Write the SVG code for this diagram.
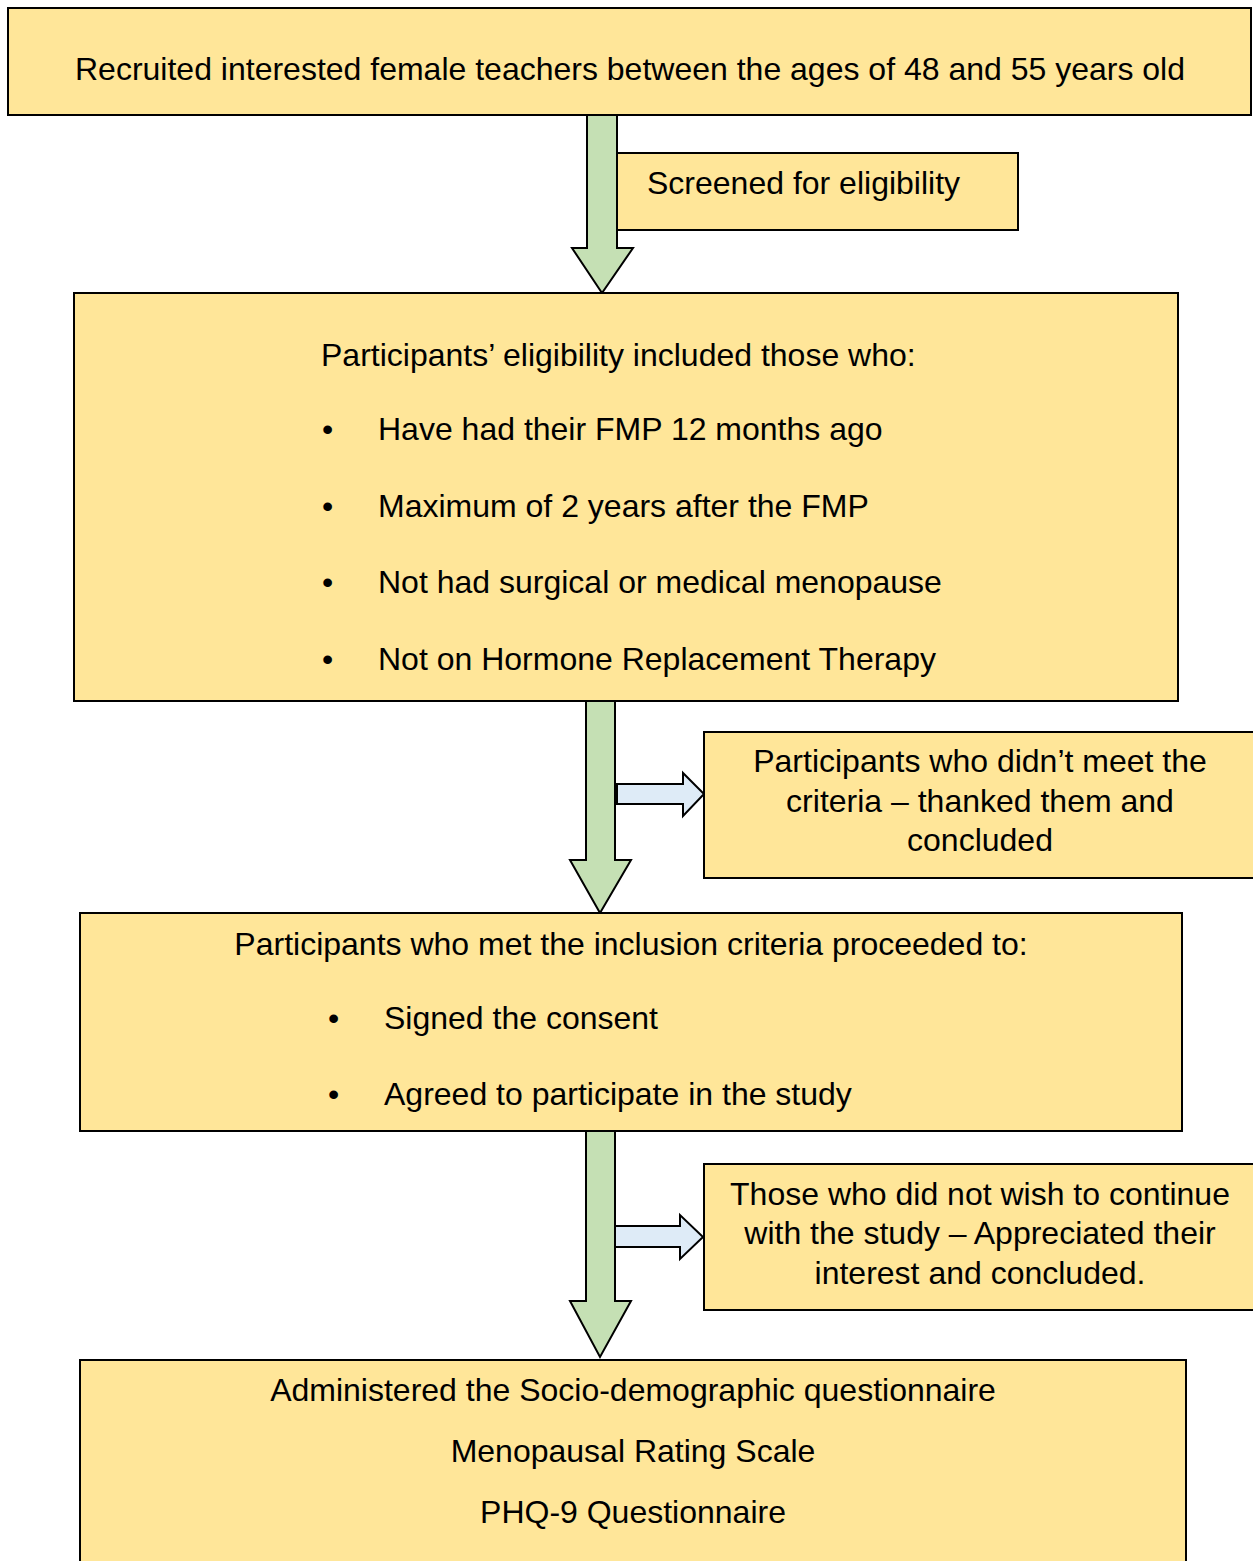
<svg xmlns="http://www.w3.org/2000/svg" width="1253" height="1561" viewBox="0 0 1253 1561">
<style>
.box{fill:#FFE699;stroke:#000;stroke-width:2}
.down{fill:#C5E0B4;stroke:#000;stroke-width:2;stroke-linejoin:miter}
.side{fill:#DEEBF7;stroke:#000;stroke-width:2}
text{font-family:"Liberation Sans",Arial,sans-serif;font-size:32px;fill:#000}
.c{text-anchor:middle}
</style>
<rect width="1253" height="1561" fill="#fff"/>
<g id="connectors">
<polygon class="down" points="587,115 617,115 617,248 633,248 602,293 572,248 587,248"/>
<polygon class="down" points="586,701 615,701 615,860 631,860 600,913 570,860 586,860"/>
<polygon class="side" points="617,784 683,784 683,773 704,794 683,816 683,804 617,804"/>
<polygon class="down" points="586,1131 615,1131 615,1301 631,1301 600,1357 570,1301 586,1301"/>
<polygon class="side" points="615,1226 680,1226 680,1215 703,1237 680,1259 680,1247 615,1247"/>
</g>
<g id="recruited">
<rect class="box" x="8" y="8" width="1243" height="107"/>
<text class="c" x="630" y="80">Recruited interested female teachers between the ages of 48 and 55 years old</text>
</g>
<g id="screened">
<rect class="box" x="617" y="153" width="401" height="77"/>
<text x="647" y="194">Screened for eligibility</text>
</g>
<g id="eligibility">
<rect class="box" x="74" y="293" width="1104" height="408"/>
<text x="321" y="366">Participants’ eligibility included those who:</text>
<text x="322" y="440">•</text><text x="378" y="440">Have had their FMP 12 months ago</text>
<text x="322" y="517">•</text><text x="378" y="517">Maximum of 2 years after the FMP</text>
<text x="322" y="593">•</text><text x="378" y="593">Not had surgical or medical menopause</text>
<text x="322" y="670">•</text><text x="378" y="670">Not on Hormone Replacement Therapy</text>
</g>
<g id="not-met">
<rect class="box" x="704" y="732" width="560" height="146"/>
<text class="c" x="980" y="772">Participants who didn’t meet the</text>
<text class="c" x="980" y="812">criteria – thanked them and</text>
<text class="c" x="980" y="851">concluded</text>
</g>
<g id="met">
<rect class="box" x="80" y="913" width="1102" height="218"/>
<text class="c" x="631" y="955">Participants who met the inclusion criteria proceeded to:</text>
<text x="328" y="1029">•</text><text x="384" y="1029">Signed the consent</text>
<text x="328" y="1105">•</text><text x="384" y="1105">Agreed to participate in the study</text>
</g>
<g id="not-continue">
<rect class="box" x="704" y="1164" width="560" height="146"/>
<text class="c" x="980" y="1205">Those who did not wish to continue</text>
<text class="c" x="980" y="1244">with the study – Appreciated their</text>
<text class="c" x="980" y="1284">interest and concluded.</text>
</g>
<g id="administered">
<rect class="box" x="80" y="1360" width="1106" height="220"/>
<text class="c" x="633" y="1401">Administered the Socio-demographic questionnaire</text>
<text class="c" x="633" y="1462">Menopausal Rating Scale</text>
<text class="c" x="633" y="1523">PHQ-9 Questionnaire</text>
</g>
</svg>
